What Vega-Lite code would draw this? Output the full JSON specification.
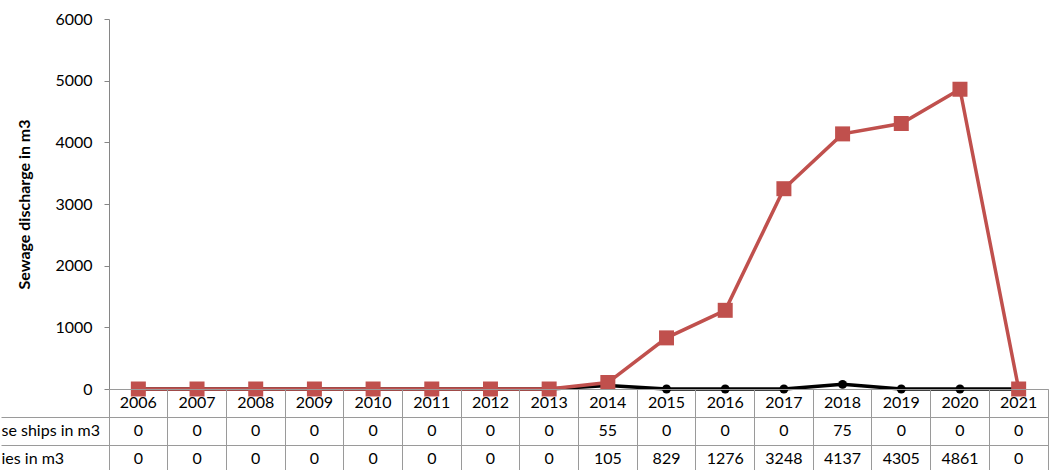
{
  "$schema": "https://vega.github.io/schema/vega-lite/v6.json",
  "padding": {"left": 0, "top": 11, "right": 8, "bottom": 0},
  "bounds": "flush",
  "spacing": 0,
  "config": {"font": "Lato", "view": {"stroke": null}},
  "data": {
    "values": [
      {"year": "2006", "cruise": 0, "ferries": 0},
      {"year": "2007", "cruise": 0, "ferries": 0},
      {"year": "2008", "cruise": 0, "ferries": 0},
      {"year": "2009", "cruise": 0, "ferries": 0},
      {"year": "2010", "cruise": 0, "ferries": 0},
      {"year": "2011", "cruise": 0, "ferries": 0},
      {"year": "2012", "cruise": 0, "ferries": 0},
      {"year": "2013", "cruise": 0, "ferries": 0},
      {"year": "2014", "cruise": 55, "ferries": 105},
      {"year": "2015", "cruise": 0, "ferries": 829},
      {"year": "2016", "cruise": 0, "ferries": 1276},
      {"year": "2017", "cruise": 0, "ferries": 3248},
      {"year": "2018", "cruise": 75, "ferries": 4137},
      {"year": "2019", "cruise": 0, "ferries": 4305},
      {"year": "2020", "cruise": 0, "ferries": 4861},
      {"year": "2021", "cruise": 0, "ferries": 0}
    ]
  },
  "vconcat": [
    {
      "width": 939,
      "height": 370,
      "encoding": {
        "x": {"field": "year", "type": "ordinal", "scale": {"type": "point", "padding": 0.5}, "axis": null}
      },
      "layer": [
        {
          "mark": {"type": "line", "color": "#000000", "strokeWidth": 3.5, "point": {"filled": true, "color": "#000000", "size": 80, "opacity": 1}},
          "encoding": {
            "y": {
              "field": "cruise", "type": "quantitative",
              "scale": {"domain": [0, 6000], "nice": false},
              "axis": {
                "values": [0, 1000, 2000, 3000, 4000, 5000, 6000],
                "format": "d",
                "title": "Sewage discharge in m3",
                "titleFontSize": 16, "titleFontWeight": "bold", "titleColor": "#000000", "titlePadding": 22,
                "labelFontSize": 16, "labelColor": "#000000", "labelPadding": 12,
                "tickSize": 5, "tickColor": "#868686", "domainColor": "#868686",
                "grid": false
              }
            }
          }
        },
        {
          "mark": {"type": "line", "color": "#C0504D", "strokeWidth": 3.5, "point": {"filled": true, "shape": "square", "color": "#C0504D", "size": 225, "opacity": 1}},
          "encoding": {
            "y": {"field": "ferries", "type": "quantitative"}
          }
        }
      ]
    },
    {
      "width": 939,
      "height": 84,
      "view": {"stroke": "#9a9a9a", "strokeWidth": 1},
      "encoding": {
        "x": {
          "field": "year", "type": "ordinal",
          "scale": {"type": "band", "paddingInner": 0, "paddingOuter": 0},
          "axis": {"bandPosition": 0, "grid": true, "gridColor": "#9a9a9a", "labels": false, "ticks": false, "domain": false, "title": null}
        }
      },
      "layer": [
        {
          "mark": {"type": "text", "fontSize": 16, "color": "#000000", "baseline": "middle"},
          "encoding": {
            "y": {
              "datum": "year", "type": "nominal",
              "scale": {"domain": ["year", "cruise", "ferries"], "type": "band", "paddingInner": 0, "paddingOuter": 0},
              "axis": {
                "bandPosition": 0, "grid": true, "gridColor": "#9a9a9a", "domain": false, "title": null,
                "tickSize": 108,
                "tickColor": {"condition": {"test": "datum.value === 'year'", "value": "transparent"}, "value": "#9a9a9a"},
                "labelExpr": "datum.value === 'cruise' ? 'se ships in m3' : datum.value === 'ferries' ? 'ies in m3' : ''",
                "labelAlign": "left", "labelPadding": 0, "labelBaseline": "middle",
                "labelFontSize": 16, "labelColor": "#000000"
              }
            },
            "text": {"field": "year", "type": "nominal"}
          }
        },
        {
          "transform": [{"fold": ["cruise", "ferries"], "as": ["row", "val"]}],
          "mark": {"type": "text", "fontSize": 16, "color": "#000000", "baseline": "middle"},
          "encoding": {
            "y": {"field": "row", "type": "nominal"},
            "text": {"field": "val", "type": "nominal"}
          }
        }
      ]
    }
  ]
}
